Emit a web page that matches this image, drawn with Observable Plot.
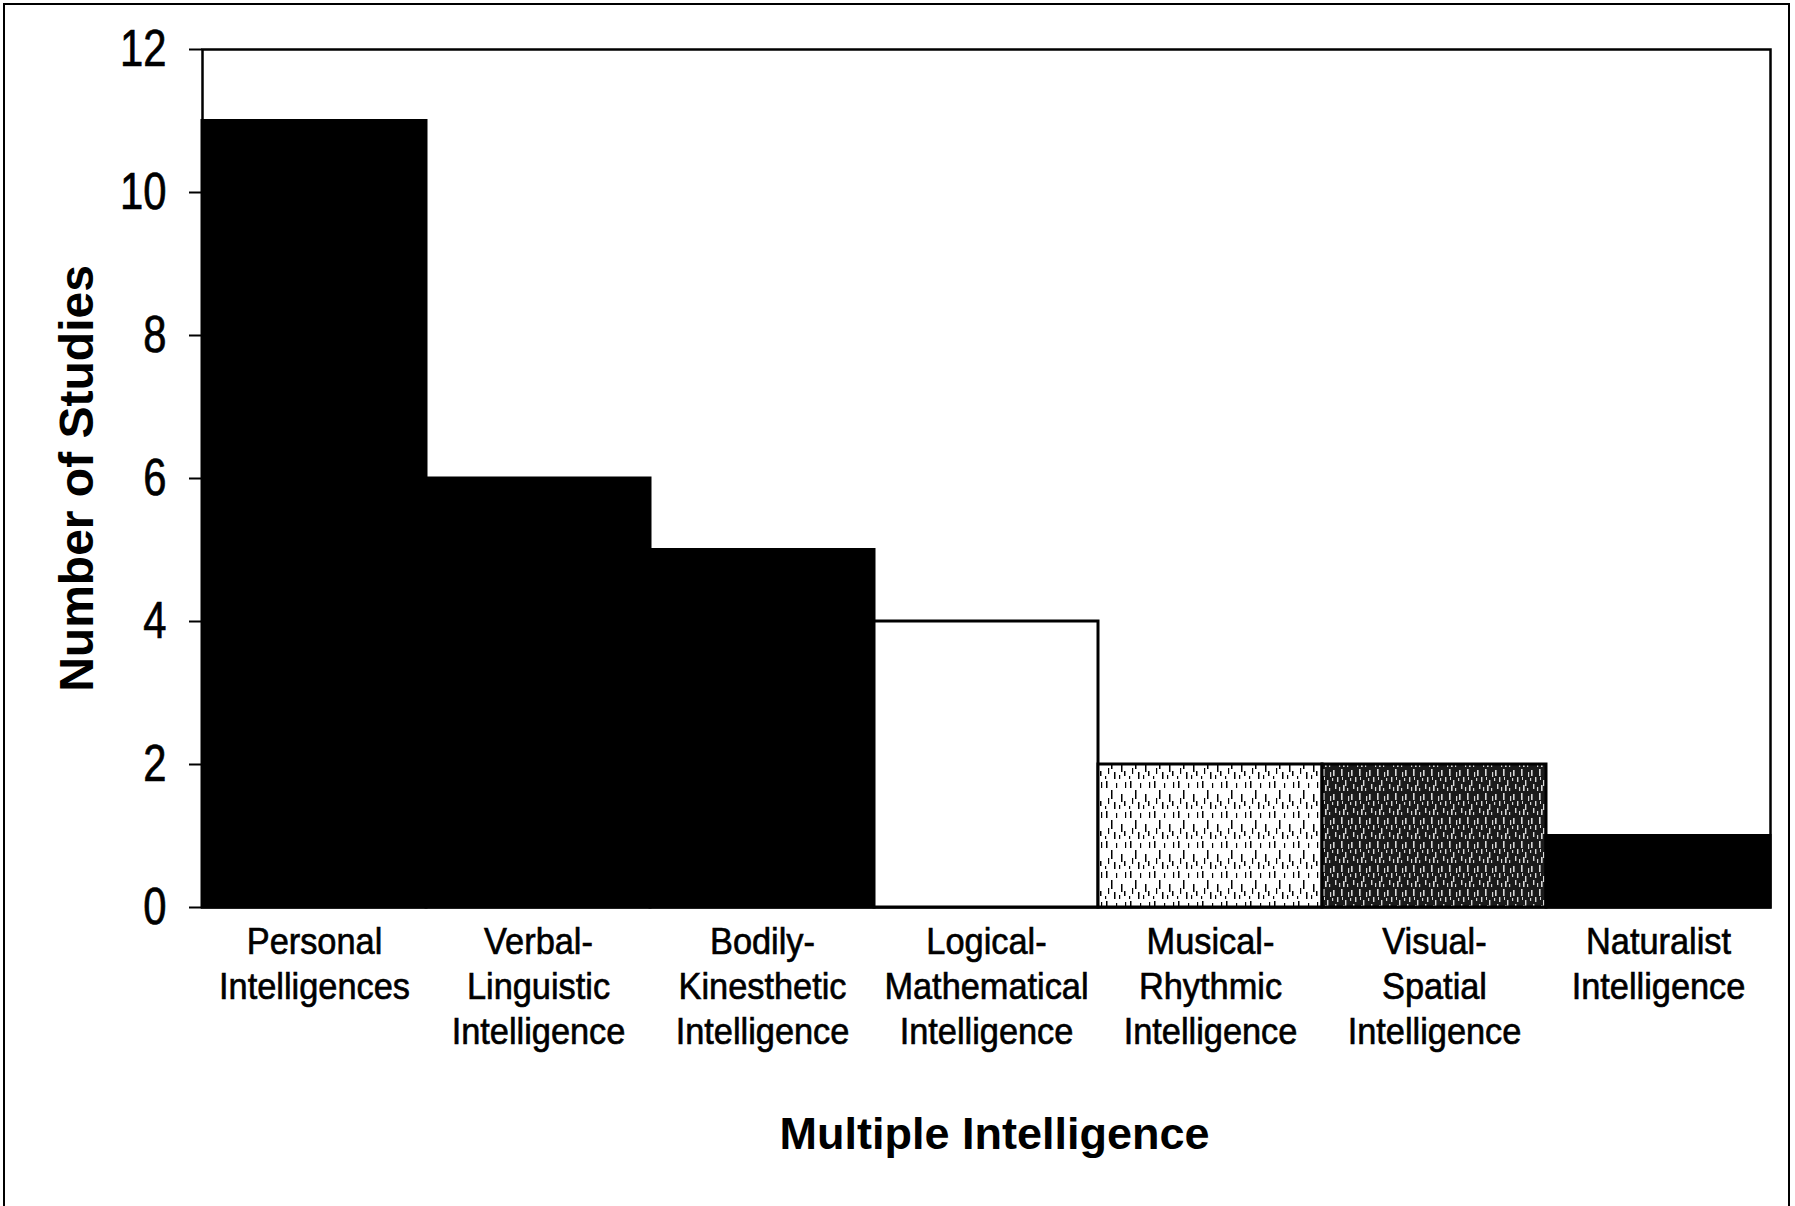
<!DOCTYPE html>
<html>
<head>
<meta charset="utf-8">
<script src="https://cdn.jsdelivr.net/npm/d3@7"></script>
<script src="https://cdn.jsdelivr.net/npm/@observablehq/plot@0.6"></script>
<style>
  html, body { margin: 0; padding: 0; background: #fff; }
  #wrap { position: relative; width: 1795px; height: 1206px; overflow: hidden; }
  #wrap svg { display: block; }
  #border { position: absolute; left: 3px; top: 3px; width: 1787px; height: 1240px; border: 2px solid #000; box-sizing: border-box; pointer-events: none; }
</style>
</head>
<body>
<div id="wrap"><div id="border"></div></div>
<script>
// ---- data ----
const categories = [
  "Personal\nIntelligences",
  "Verbal-\nLinguistic\nIntelligence",
  "Bodily-\nKinesthetic\nIntelligence",
  "Logical-\nMathematical\nIntelligence",
  "Musical-\nRhythmic\nIntelligence",
  "Visual-\nSpatial\nIntelligence",
  "Naturalist\nIntelligence"
];
const studies = [11, 6, 5, 4, 2, 2, 1];
const barFills = ["black", "black", "black", "white", "url(#speckleLight)", "url(#speckleDark)", "black"];
const yTicks = [0, 2, 4, 6, 8, 10, 12];
const xTitle = "Multiple Intelligence";
const yTitle = "Number of Studies";

const rows = categories.map((c, i) => ({category: c, value: studies[i], fill: barFills[i]}));

const font = "'Liberation Sans', Arial, Helvetica, sans-serif";

const chart = Plot.plot({
  width: 1795,
  height: 1206,
  marginLeft: 202,
  marginRight: 25,
  marginTop: 49,
  marginBottom: 299,
  style: {fontFamily: font, color: "black", background: "white"},
  x: {domain: categories, padding: 0},
  y: {domain: [0, 12]},
  color: {type: "identity"},
  marks: [
    Plot.barY(rows, {x: "category", y: "value", fill: "fill", stroke: "black", strokeWidth: 3, inset: 0}),
    Plot.frame({stroke: "black", strokeWidth: 2.5}),
    Plot.axisY({
      ticks: yTicks, tickSize: 13, tickPadding: 23, fontSize: 44, strokeWidth: 2,
      label: yTitle, labelAnchor: "center", labelArrow: "none", labelOffset: 144
    }),
    Plot.axisX({
      tickSize: 0, tickPadding: 14, fontSize: 34, lineHeight: 1.2,
      label: xTitle, labelAnchor: "center", labelArrow: "none", labelOffset: 238
    })
  ]
});

const svg = d3.select(chart);
// patterns for textured bars
const defs = svg.insert("defs", ":first-child");
const pl = defs.append("pattern").attr("id", "speckleLight").attr("patternUnits", "userSpaceOnUse")
  .attr("width", 24).attr("height", 30);
pl.append("rect").attr("width", 24).attr("height", 30).attr("fill", "white");
[[2,1,1.5,7],[7,10,1.5,9],[12,3,1.2,5],[17,14,1.5,8],[21,2,1.2,6],[4,18,1.2,6],[10,22,1.5,7],[15,25,1.2,4],[20,21,1.5,5],[1,26,1.2,3]]
  .forEach(([x, y, w, h]) => pl.append("rect").attr("x", x).attr("y", y).attr("width", w).attr("height", h).attr("fill", "black"));
const pd = defs.append("pattern").attr("id", "speckleDark").attr("patternUnits", "userSpaceOnUse")
  .attr("width", 18).attr("height", 24);
pd.append("rect").attr("width", 18).attr("height", 24).attr("fill", "#1a1a1a");
[[1,2,1.6,6],[5,9,1.4,5],[9,1,1.6,7],[13,12,1.4,6],[16,4,1.2,5],[3,16,1.4,5],[7,19,1.2,4],[11,17,1.6,6],[15,20,1.2,3],[0,10,1.2,3],[10,9,1.0,3]]
  .forEach(([x, y, w, h]) => pd.append("rect").attr("x", x).attr("y", y).attr("width", w).attr("height", h).attr("fill", "#d8d8d8"));

// text stretching to mimic the condensed, tall type of the original
svg.selectAll('g[aria-label="y-axis tick label"] text').each(function() {
  const t = this.getAttribute("transform") || "";
  this.setAttribute("transform", t + " scale(0.95,1.18)");
}).attr("stroke", "black").attr("stroke-width", 0.6);
svg.selectAll('g[aria-label="x-axis tick label"] text').each(function() {
  const t = this.getAttribute("transform") || "";
  this.setAttribute("transform", t + " scale(1.01,1.11)");
}).attr("stroke", "black").attr("stroke-width", 0.6);
svg.selectAll('g[aria-label="y-axis label"] text')
  .attr("font-weight", "bold").attr("font-size", 48);
svg.selectAll('g[aria-label="x-axis label"] text')
  .attr("font-weight", "bold").attr("font-size", 45)
  .each(function() {
    const t = this.getAttribute("transform") || "";
    this.setAttribute("transform", t + " translate(8,3)");
  });

document.getElementById("wrap").insertBefore(chart, document.getElementById("border"));
</script>
</body>
</html>
